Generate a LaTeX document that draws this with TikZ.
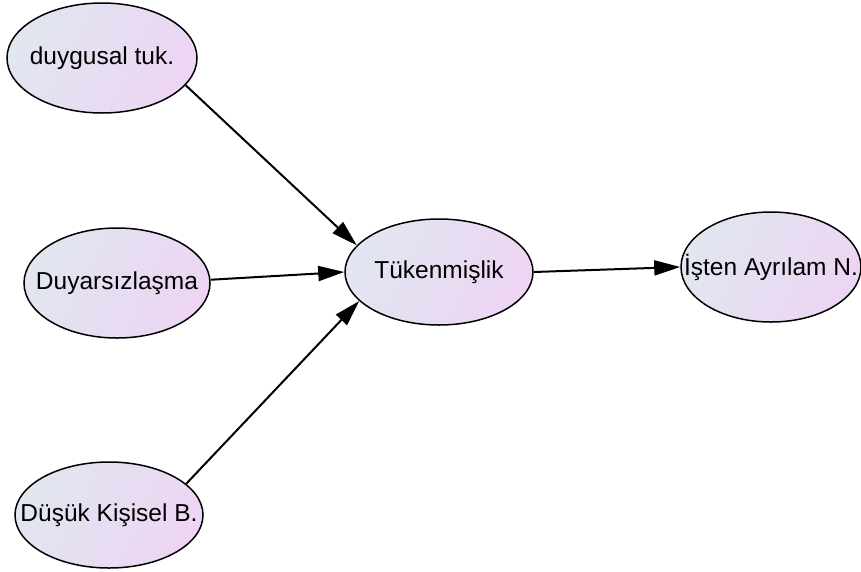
\documentclass[tikz,border=0pt]{standalone}
\usepackage{fontspec}
\setmainfont{Liberation Sans}
\usetikzlibrary{shapes.geometric,arrows.meta}

\definecolor{fillA}{RGB}{225,230,240}
\definecolor{fillB}{RGB}{237,213,243}

% zero-width label so the ellipse keeps the size that is asked for
\newcommand{\zwlabel}[1]{\makebox[0pt][c]{#1}}

\tikzset{
  concept/.style={ellipse, draw=black, line width=1.5pt, inner sep=0pt,
    left color=fillA, right color=fillB, shading angle=65,
    font=\fontsize{24.5}{28}\selectfont},
  link/.style={draw=black, line width=2pt,
    -{Triangle[length=26pt,width=15pt]}}
}

\begin{document}
\begin{tikzpicture}[x=1pt,y=-1pt]
  \useasboundingbox (0,0) rectangle (861,571);

  \node[concept, minimum width=190, minimum height=110] (duy) at (102,58) {\zwlabel{duygusal tuk.}};
  \node[concept, minimum width=186, minimum height=110] (dsz) at (117,283) {\zwlabel{Duyarsızlaşma}};
  \node[concept, minimum width=188, minimum height=106] (tuk) at (439,272) {\zwlabel{Tükenmişlik}};
  \node[concept, minimum width=180, minimum height=110] (ist) at (771,267) {\zwlabel{İşten Ayrılam N.}};
  \node[concept, minimum width=188, minimum height=106] (dus) at (109,515) {\zwlabel{Düşük Kişisel B.}};

  \draw[link] (duy.-18) -- (tuk.162);
  \draw[link] (dsz.2) -- (tuk.180);
  \draw[link] (dus.22) -- (tuk.200);
  \draw[link] (tuk.0) -- (ist.180);
\end{tikzpicture}
\end{document}
